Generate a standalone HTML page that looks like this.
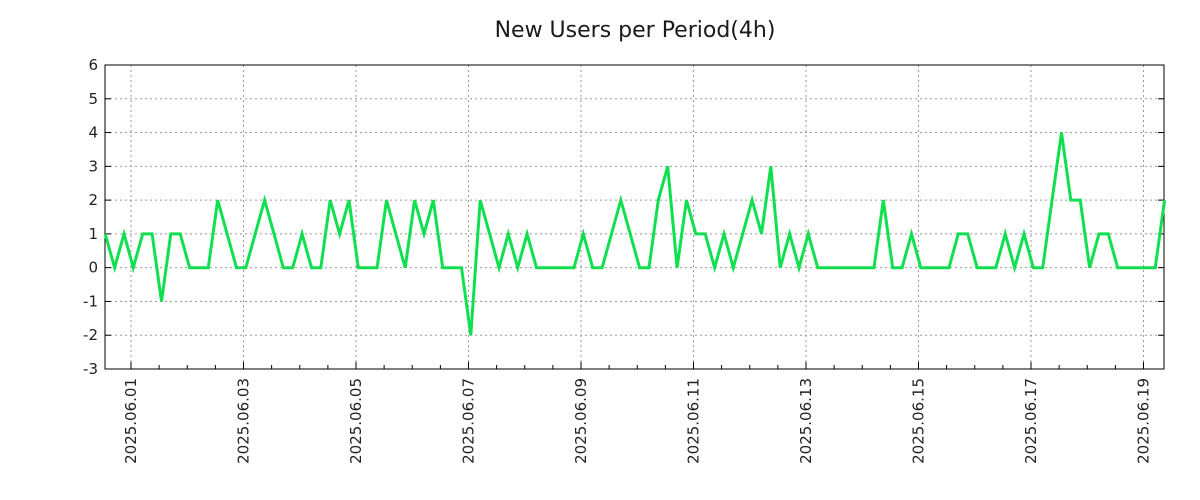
<!DOCTYPE html>
<html><head><meta charset="utf-8"><style>
html,body{margin:0;padding:0;background:#fff;}
svg{display:block;font-family:"DejaVu Sans","Liberation Sans",sans-serif;}
</style></head><body>
<svg id="chart" width="1200" height="500">
<rect width="1200" height="500" fill="#fff"/>
<text x="635" y="37" text-anchor="middle" font-size="22" fill="#1a1a1a">New Users per Period(4h)</text>
<g id="grid"></g>
<g id="axes"></g>
<g id="series"></g>
</svg>
<script>
const values = [1,0,1,0,1,1,-1,1,1,0,0,0,2,1,0,0,1,2,1,0,0,1,0,0,2,1,2,0,0,0,2,1,0,2,1,2,0,0,0,-2,2,1,0,1,0,1,0,0,0,0,0,1,0,0,1,2,1,0,0,2,3,0,2,1,1,0,1,0,1,2,1,3,0,1,0,1,0,0,0,0,0,0,0,2,0,0,1,0,0,0,0,1,1,0,0,0,1,0,1,0,0,2,4,2,2,0,1,1,0,0,0,0,0,2];
const startHour = -11;
const periodHours = 4;
const yTicks = [-3,-2,-1,0,1,2,3,4,5,6];
const xTickLabels = ["2025.06.01","2025.06.03","2025.06.05","2025.06.07","2025.06.09","2025.06.11","2025.06.13","2025.06.15","2025.06.17","2025.06.19"];

const NS="http://www.w3.org/2000/svg";
const L=105,R=1164,T=65,B=369;
const yMin=-3,yMax=6;
function xScale(h){return 131 + h*56.25/24;}
function yScale(v){return B - (v-yMin)*(B-T)/(yMax-yMin);}
function mk(tag,attrs,parent){const e=document.createElementNS(NS,tag);for(const k in attrs)e.setAttribute(k,attrs[k]);parent.appendChild(e);return e;}
const grid=document.getElementById('grid'),axes=document.getElementById('axes'),series=document.getElementById('series');

yTicks.forEach(v=>{
  const y=yScale(v);
  if(v>yMin&&v<yMax){const g=mk('line',{x1:L,x2:R,y1:y,y2:y,stroke:'#999','stroke-dasharray':'2,3','stroke-width':1},grid);
    
    }
  const t1=mk('line',{x1:L,x2:L+6,y1:y,y2:y,stroke:'#000'},axes);
  
  
  const t2=mk('line',{x1:R-6,x2:R,y1:y,y2:y,stroke:'#000'},axes);
  
  
  const lb=mk('text',{x:98,y:y+5,'text-anchor':'end','font-size':15,fill:'#222'},axes);
  lb.textContent=String(v);
  
  
});
for(let h=-12;h<=19*24;h+=12){
  const x=xScale(h); if(x<L||x>R) continue;
  const m=mk('line',{x1:x,x2:x,y1:B,y2:B-4,stroke:'#000'},axes);
  
  
}
xTickLabels.forEach((s,i)=>{
  const x=xScale(i*48);
  const g=mk('line',{x1:x,x2:x,y1:T,y2:B,stroke:'#999','stroke-dasharray':'2,3','stroke-width':1},grid);
  
  
  const t=mk('line',{x1:x,x2:x,y1:B,y2:B-7,stroke:'#000'},axes);
  
  
  const lb=mk('text',{x:0,y:0,'text-anchor':'end','font-size':15,fill:'#222',transform:`translate(${x+5},378) rotate(-90)`},axes);
  lb.textContent=s;
  
  
});
const frame=mk('rect',{x:L,y:T,width:R-L,height:B-T,fill:'none',stroke:'#000','stroke-width':1},axes);



const pts=values.map((v,i)=>xScale(startHour+i*periodHours).toFixed(1)+','+yScale(v).toFixed(1)).join(' ');
const line=mk('polyline',{points:pts,fill:'none',stroke:'#10e050','stroke-width':3,'stroke-linejoin':'miter'},series);


</script>
</body></html>
